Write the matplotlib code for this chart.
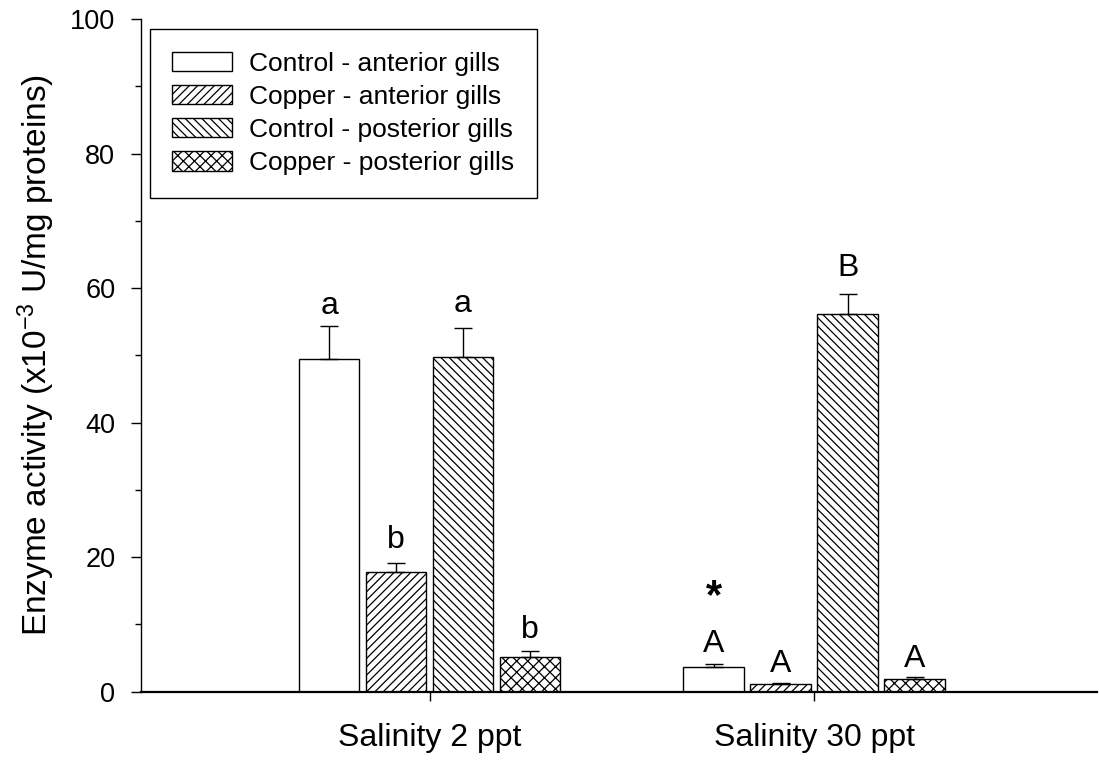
import numpy as np
import matplotlib
matplotlib.use('Agg')
import matplotlib.pyplot as plt
from matplotlib.ticker import MultipleLocator

plt.rcParams.update({
  'font.family': ['Liberation Sans', 'DejaVu Sans'],
  'font.size': 19,
  'mathtext.fontset': 'custom',
  'mathtext.rm': 'Liberation Sans',
  'mathtext.default': 'regular',
  'hatch.linewidth': 0.9,
})

groups = ['Salinity 2 ppt', 'Salinity 30 ppt']
series = ['Control - anterior gills', 'Copper - anterior gills',
          'Control - posterior gills', 'Copper - posterior gills']
hatches = ['', '////', '\\\\\\\\', 'xxx']

# mean and SEM per series, one value per salinity
means = [[49.5, 3.6], [17.8, 1.1], [49.7, 56.1], [5.2, 1.9]]
errs = [[4.9, 0.5], [1.3, 0.15], [4.4, 3.0], [0.8, 0.25]]
letters = [['a', 'A'], ['b', 'A'], ['a', 'B'], ['b', 'A']]
# gap between error bar top and letter baseline
letter_gap = [[1.8, 1.8], [2.2, 1.6], [2.3, 2.7], [1.9, 1.45]]
star_y = 14.1

def plot_enzyme():
  fig = plt.figure(figsize=(10.99, 7.61), dpi=100)
  ax = fig.add_axes([0.1283, 0.0913, 0.8698, 0.8837])

  centers = np.arange(1, len(groups) + 1)
  width = 0.158
  step = 0.174

  for i, name in enumerate(series):
    x = centers + (i - 1.5) * step
    ax.bar(x, means[i], width, color='white', edgecolor='black',
           linewidth=1.0, hatch=hatches[i], label=name, zorder=2)
    ax.errorbar(x, means[i], yerr=[np.zeros(len(groups)), errs[i]], fmt='none',
                ecolor='black', elinewidth=1.0, capsize=6.5, capthick=1.0, zorder=3)
    for j in range(len(groups)):
      top = means[i][j] + errs[i][j]
      ax.text(x[j], top + letter_gap[i][j], letters[i][j], ha='center', va='baseline', fontsize=23)

  # significance mark on the 30 ppt control anterior bar
  ax.text(centers[1] - 1.5 * step, star_y, '*', ha='center', va='center',
          fontsize=30, fontweight='bold')

  ax.set_xlim(0.25, 2.735)
  ax.set_ylim(0, 100)
  ax.set_xticks(centers)
  ax.set_xticklabels(groups, fontsize=23)
  ax.yaxis.set_major_locator(MultipleLocator(20))
  ax.yaxis.set_minor_locator(MultipleLocator(10))

  ax.spines['top'].set_visible(False)
  ax.spines['right'].set_visible(False)
  ax.spines['left'].set_linewidth(1.0)
  ax.spines['bottom'].set_linewidth(1.6)

  ax.tick_params(axis='y', which='major', direction='out', length=7.5, width=1.0, pad=11, labelsize=19.5)
  ax.tick_params(axis='y', which='minor', direction='out', length=4, width=1.0)
  ax.tick_params(axis='x', which='major', direction='out', length=6.5, width=1.0, pad=16)

  ax.set_ylabel(r'Enzyme activity (x10$^{-3}$ U/mg proteins)', fontsize=24)
  ax.yaxis.set_label_coords(-0.088, 0.5)

  leg = ax.legend(loc='upper left', bbox_to_anchor=(0.0094, 0.985), borderaxespad=0,
                  fancybox=False, edgecolor='black', framealpha=1,
                  handlelength=2.27, handleheight=0.75, handletextpad=0.65,
                  labelspacing=0.35, borderpad=0.85, fontsize=19)
  leg.get_frame().set_linewidth(1.0)

  fig.savefig('out.png', dpi=100)

if __name__ == '__main__':
  plot_enzyme()
